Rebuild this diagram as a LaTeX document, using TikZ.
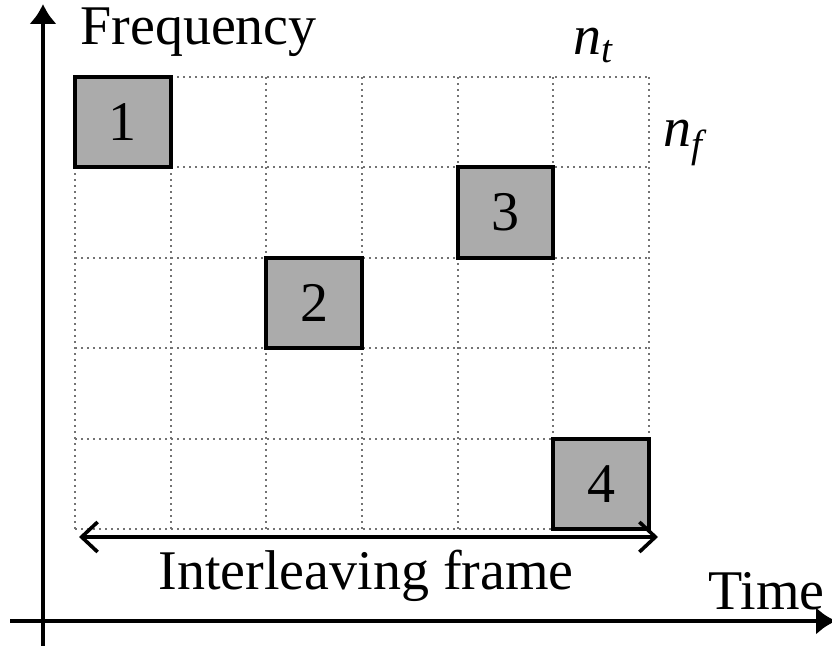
\documentclass[tikz,border=0pt]{standalone}
\usepackage{fontspec}
\setmainfont{Liberation Serif}
\usetikzlibrary{arrows.meta}

\begin{document}
\begin{tikzpicture}[
    x=0.5pt, y=-0.5pt,
    font=\fontsize{28}{31}\selectfont,
    axis/.style={line width=2.2pt, -{Latex[length=10pt,width=14pt]}},
    gridline/.style={black!55, line width=1pt, dotted},
    slot/.style={draw, line width=2pt, fill=black!33, minimum width=47.8pt, minimum height=45.2pt, inner sep=0pt},
    frame/.style={line width=1.8pt, {Straight Barb[length=8pt,width=15pt]}-{Straight Barb[length=8pt,width=15pt]}},
    idx/.style={anchor=base west, inner sep=0pt, font=\fontsize{28}{31}\selectfont\itshape},
  ]
  \useasboundingbox (0,0) rectangle (832,646);
  % axes
  \coordinate (origin) at (43,621);
  \coordinate (ftop) at (43,4);
  \coordinate (fbot) at (43,646);
  \coordinate (tleft) at (10,621);
  \coordinate (tright) at (836,621);
  \draw[line width=2.2pt] (origin) -- (fbot);
  \draw[axis] (fbot) -- (ftop);
  \draw[axis] (tleft) -- (tright);
  \node[anchor=base west, inner sep=0pt] (freq) at (80,45) {Frequency};
  \node[anchor=base west, inner sep=0pt] (time) at (708,610) {Time};
  % time-frequency grid
  \begin{scope}[shift={(75,77)}]
    \draw[gridline, xstep=47.83pt, ystep=45.2pt] (0,0) grid (574,452);
  \end{scope}
  \node[idx] (nt) at (573,55) {n\textsubscript{t}};
  \node[idx] (nf) at (663,147) {n\textsubscript{f}};
  % occupied slots
  \node[slot] (s1) at (122.8,122.2) {1};
  \node[slot] (s3) at (505.5,212.6) {3};
  \node[slot] (s2) at (314.2,303) {2};
  \node[slot] (s4) at (601.2,483.8) {4};
  % frame length
  \coordinate (fl) at (79,537);
  \coordinate (fr) at (658,537);
  \draw[frame] (fl) -- (fr);
  \node[anchor=base, inner sep=0pt] (ilv) at (366,590) {Interleaving frame};
\end{tikzpicture}
\end{document}
